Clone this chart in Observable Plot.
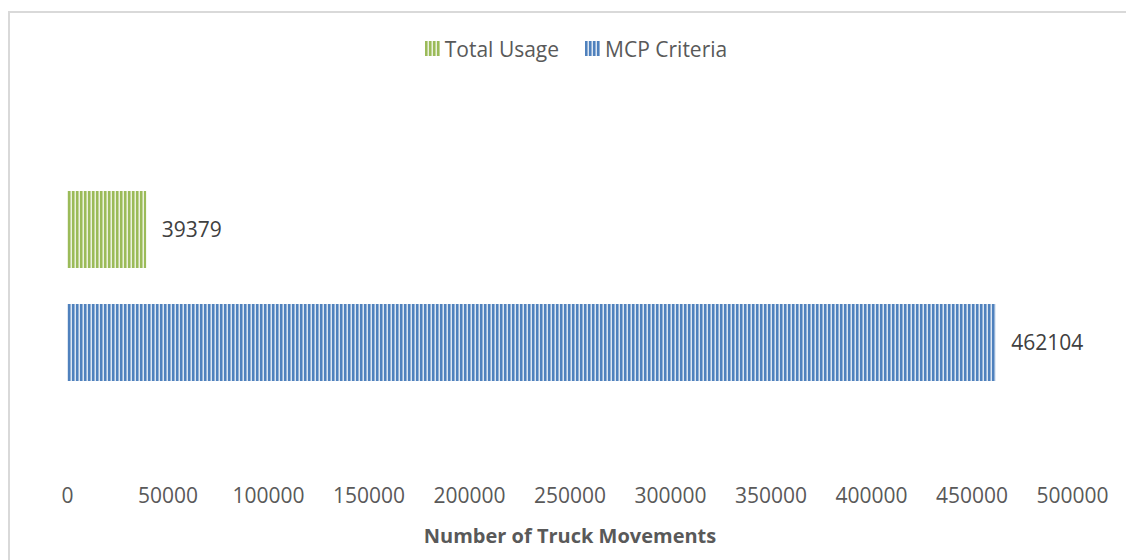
<!DOCTYPE html>
<html>
<head>
<meta charset="utf-8">
<script src="https://cdn.jsdelivr.net/npm/d3@7"></script>
<script src="https://cdn.jsdelivr.net/npm/@observablehq/plot@0.6"></script>
<style>
  html, body { margin: 0; padding: 0; background: #fff; }
  #wrap { position: relative; width: 1126px; height: 560px; overflow: hidden; font-family: "Open Sans", sans-serif; }
  #frame { position: absolute; left: 8px; top: 11px; width: 1200px; height: 700px; border-top: 2px solid #d9d9d9; border-left: 2px solid #d9d9d9; box-sizing: border-box; }
  #legend { position: absolute; top: 34px; left: 13px; width: 1126px; text-align: center; font-size: 21px; color: #595959; }
  #legend .item { display: inline-flex; align-items: center; margin: 0 13px; }
  #legend svg { margin-right: 5px; }
  #chart { position: absolute; top: 70px; left: 0; }
  #xlabel { position: absolute; top: 522px; left: 0; width: 1140px; text-align: center; font-size: 20px; font-weight: bold; color: #595959; }
</style>
</head>
<body>
<div id="wrap">
  <div id="frame"></div>
  <div id="legend"></div>
  <div id="chart"></div>
  <div id="xlabel"></div>
</div>
<script>
const series = ["Total Usage", "MCP Criteria"];
const values = [39379, 462104];
const xTicks = [0, 50000, 100000, 150000, 200000, 250000, 300000, 350000, 400000, 450000, 500000];
const axisTitle = "Number of Truck Movements";
const patternIds = ["stripeGreen", "stripeBlue"];
const stripeColors = [
  ["#9bbb59", "#c3d69b", "#ebf1de"],
  ["#4f81bd", "#95b3d7", "#dce6f2"]
];

const data = series.map((s, i) => ({series: s, value: values[i]}));

function patternDefs(prefix) {
  return patternIds.map((id, i) => {
    const [d, m, l] = stripeColors[i];
    return `<pattern id="${prefix}${id}" patternUnits="userSpaceOnUse" width="4" height="10">
      <rect x="0" y="0" width="4" height="10" fill="${d}"/>
      <rect x="2" y="0" width="1" height="10" fill="${m}"/>
      <rect x="3" y="0" width="1" height="10" fill="${l}"/>
    </pattern>`;
  }).join("");
}

// Legend
const legend = document.getElementById("legend");
series.forEach((s, i) => {
  const item = document.createElement("span");
  item.className = "item";
  item.innerHTML = `<svg width="15" height="15"><defs>${patternDefs("lg")}</defs><rect width="15" height="15" fill="url(#lg${patternIds[i]})"/></svg><span>${s}</span>`;
  legend.appendChild(item);
});

const chart = Plot.plot({
  width: 1126,
  height: 450,
  marginLeft: 67,
  marginRight: 54,
  marginTop: 0,
  marginBottom: 50,
  style: {fontFamily: "Open Sans, sans-serif", fontSize: "21px", color: "#595959", background: "transparent"},
  x: {domain: [0, 500000], ticks: xTicks, tickFormat: d => String(d)},
  y: {domain: series, range: [121, 311], paddingInner: 0.319, paddingOuter: 0, align: 0.5, axis: null},
  color: {domain: series, range: patternIds.map(id => `url(#${id})`)},
  marks: [
    Plot.axisX({ticks: xTicks, tickFormat: d => String(d), tickSize: 0, tickPadding: 18, label: null, fontSize: 21, color: "#595959"}),
    Plot.barX(data, {x: "value", y: "series", fill: "series"}),
    Plot.text(data, {x: "value", y: "series", text: d => String(d.value), textAnchor: "start", dx: 15, fontSize: 21, fill: "#404040"})
  ]
});
document.getElementById("chart").appendChild(chart);
const defs = document.createElementNS("http://www.w3.org/2000/svg", "defs");
defs.innerHTML = patternDefs("");
chart.insertBefore(defs, chart.firstChild);

document.getElementById("xlabel").textContent = axisTitle;
</script>
</body>
</html>
